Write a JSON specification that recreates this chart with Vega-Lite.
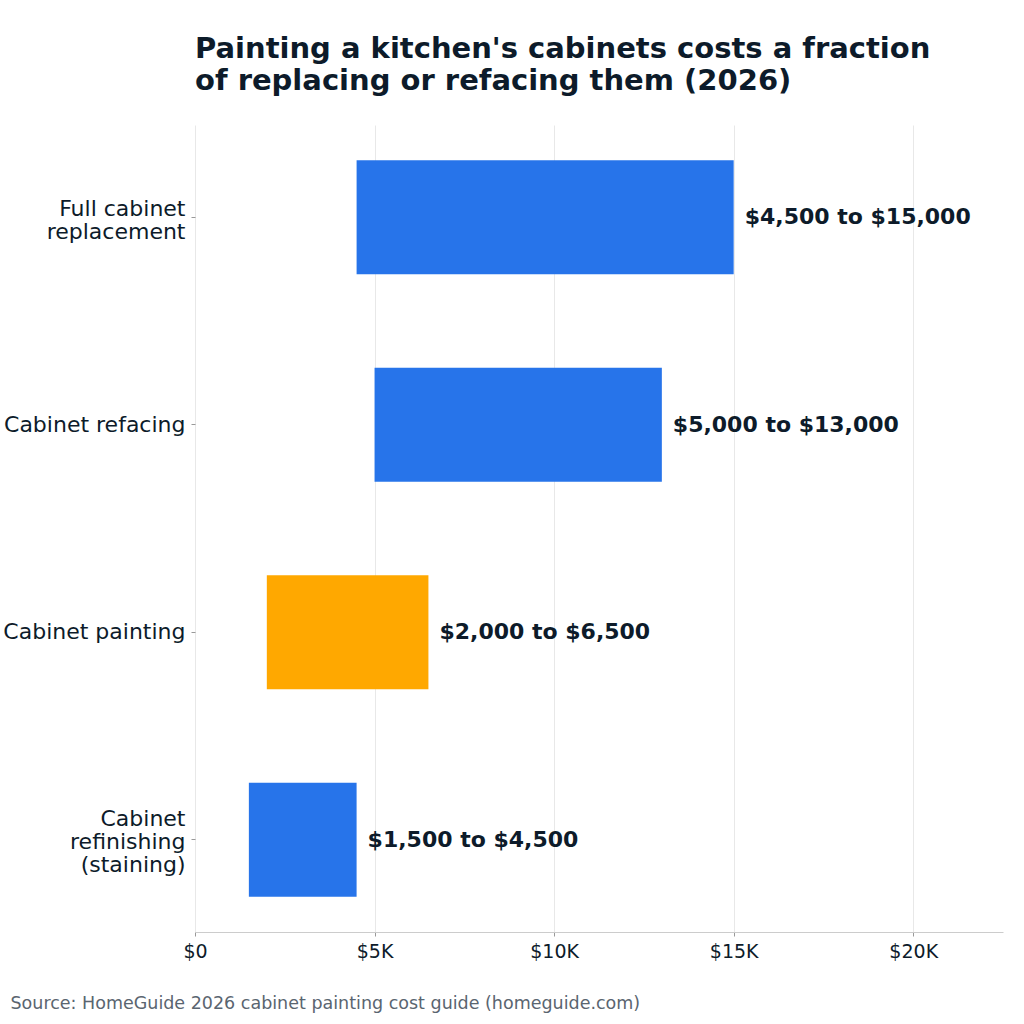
{
  "$schema": "https://vega.github.io/schema/vega-lite/v6.json",
  "autosize": {"type": "none"},
  "padding": {"left": 195, "top": 125, "right": 21, "bottom": 92},
  "width": 808,
  "height": 807,
  "title": {
    "text": ["Painting a kitchen's cabinets costs a fraction", "of replacing or refacing them (2026)"],
    "anchor": "start",
    "frame": "group",
    "font": "DejaVu Sans",
    "fontSize": 29,
    "fontWeight": "bold",
    "color": "#0d1b2a",
    "lineHeight": 32,
    "offset": 29
  },
  "data": {
    "values": [
      {"item": "Full cabinet replacement", "low": 4500, "high": 15000, "label": "$4,500 to $15,000", "highlight": "no"},
      {"item": "Cabinet refacing", "low": 5000, "high": 13000, "label": "$5,000 to $13,000", "highlight": "no"},
      {"item": "Cabinet painting", "low": 2000, "high": 6500, "label": "$2,000 to $6,500", "highlight": "yes"},
      {"item": "Cabinet refinishing (staining)", "low": 1500, "high": 4500, "label": "$1,500 to $4,500", "highlight": "no"}
    ]
  },
  "encoding": {
    "y": {
      "field": "item",
      "type": "nominal",
      "sort": null,
      "scale": {"paddingInner": 0.45, "paddingOuter": 0.17},
      "axis": {
        "title": null,
        "domain": false,
        "grid": false,
        "tickColor": "#999999",
        "tickSize": 4,
        "labelPadding": 6,
        "labelLimit": 400,
        "labelFont": "DejaVu Sans",
        "labelFontSize": 22,
        "labelColor": "#0d1b2a",
        "labelLineHeight": 23,
        "labelOffset": {
          "condition": [
            {"test": "datum.label == 'Full cabinet replacement'", "value": -8},
            {"test": "datum.label == 'Cabinet refinishing (staining)'", "value": -21}
          ],
          "value": 0
        },
        "labelExpr": "datum.label == 'Full cabinet replacement' ? ['Full cabinet', 'replacement'] : datum.label == 'Cabinet refinishing (staining)' ? ['Cabinet', 'refinishing', '(staining)'] : datum.label"
      }
    }
  },
  "layer": [
    {
      "mark": {"type": "bar"},
      "encoding": {
        "x": {
          "field": "low",
          "type": "quantitative",
          "scale": {"domain": [0, 22500], "nice": false},
          "axis": {
            "values": [0, 5000, 10000, 15000, 20000],
            "labelExpr": "datum.value == 0 ? '$0' : '$' + datum.value / 1000 + 'K'",
            "labelFlush": false,
            "labelFont": "DejaVu Sans",
            "labelFontSize": 19,
            "labelColor": "#0d1b2a",
            "labelPadding": 6,
            "grid": true,
            "gridColor": "#e8e8e8",
            "domainColor": "#cccccc",
            "tickColor": "#999999",
            "tickSize": 4,
            "title": "Source: HomeGuide 2026 cabinet painting cost guide (homeguide.com)",
            "titleFont": "DejaVu Sans",
            "titleFontSize": 17.5,
            "titleFontWeight": "normal",
            "titleColor": "#5a6570",
            "titleAlign": "left",
            "titleAnchor": "start",
            "titleX": -185,
            "titleY": 62
          }
        },
        "x2": {"field": "high"},
        "color": {
          "field": "highlight",
          "type": "nominal",
          "scale": {"domain": ["no", "yes"], "range": ["#2774ea", "#ffa800"]},
          "legend": null
        }
      }
    },
    {
      "mark": {"type": "text", "align": "left", "baseline": "middle", "dx": 11, "font": "DejaVu Sans", "fontSize": 22, "fontWeight": "bold", "color": "#0d1b2a"},
      "encoding": {
        "x": {"field": "high", "type": "quantitative"},
        "text": {"field": "label"}
      }
    }
  ],
  "config": {
    "view": {"stroke": null},
    "background": "white"
  }
}
